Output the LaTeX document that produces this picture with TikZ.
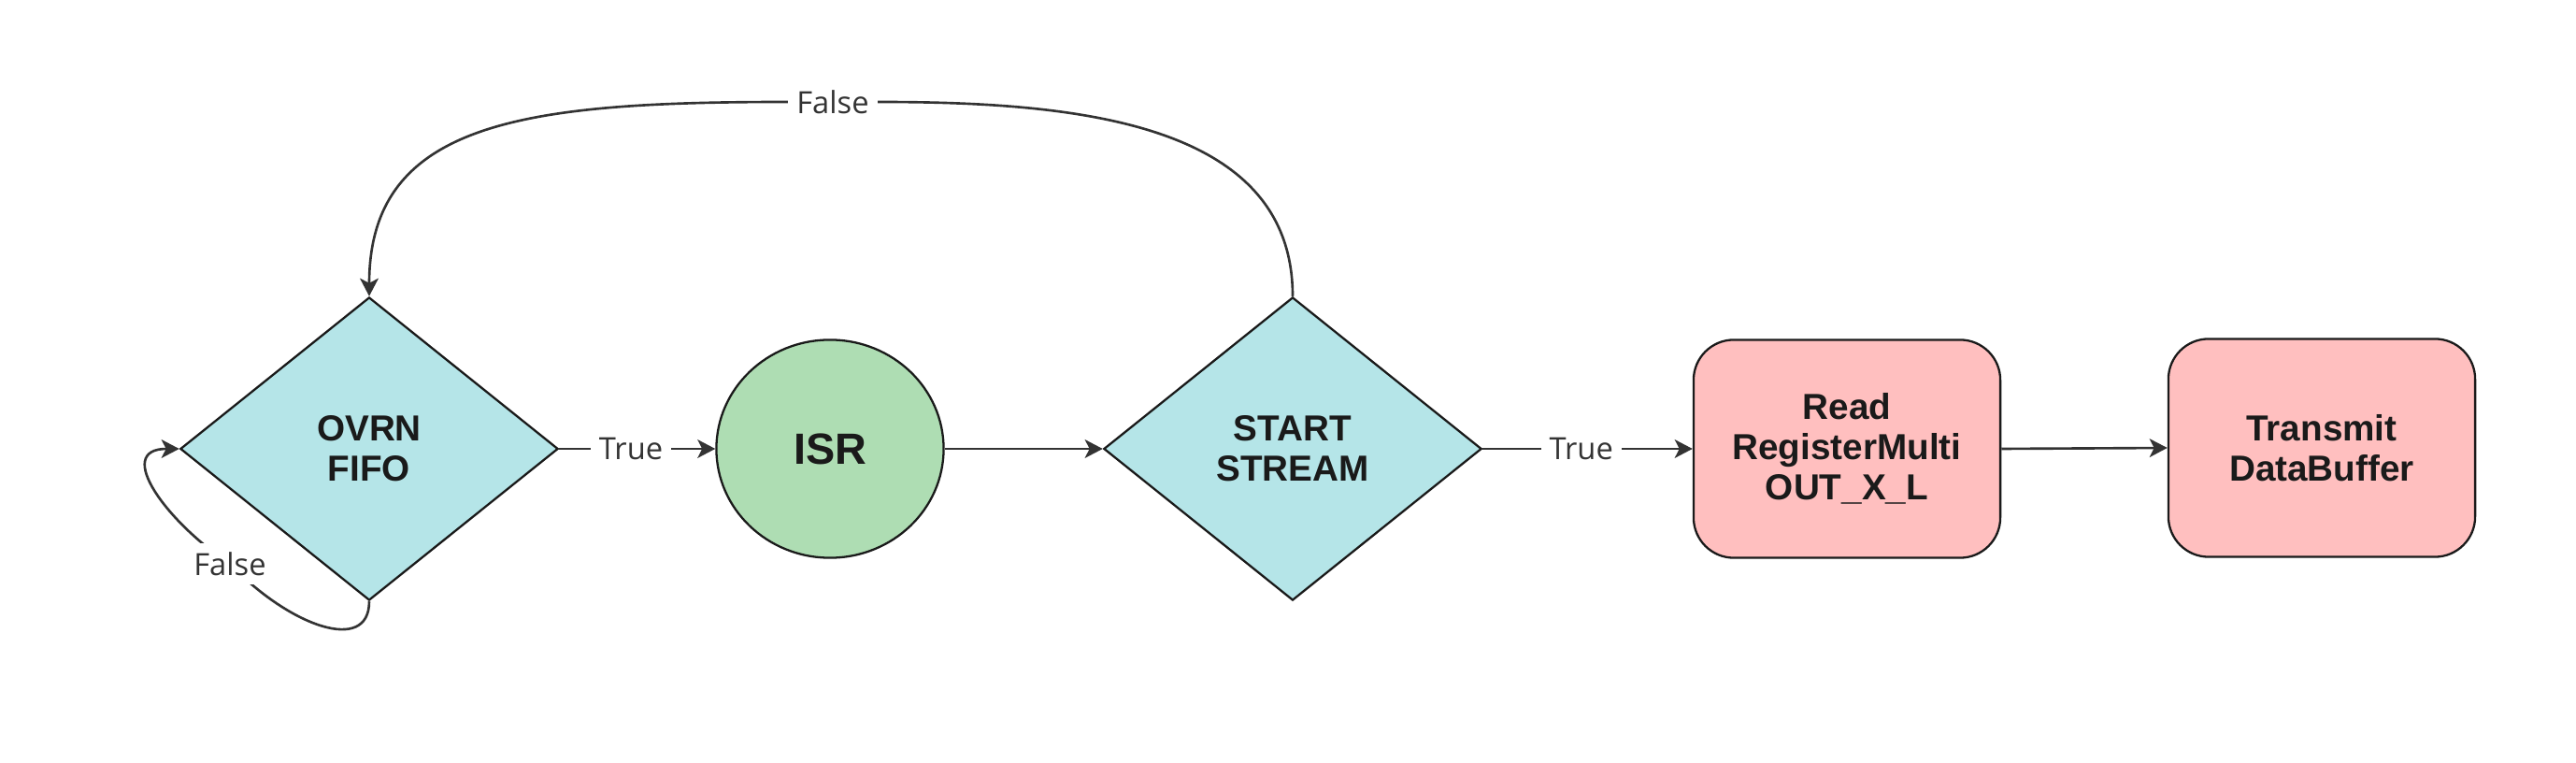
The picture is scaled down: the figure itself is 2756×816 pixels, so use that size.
\documentclass[tikz,border=0pt]{standalone}
\usepackage{fontspec}
\setmainfont{Liberation Sans}
\newfontfamily\lblfont{Open Sans}
\usetikzlibrary{shapes.geometric,arrows.meta}
\definecolor{dia}{HTML}{B5E5E8}
\definecolor{grn}{HTML}{AEDDB3}
\definecolor{pnk}{HTML}{FFBFBF}
\definecolor{edgec}{HTML}{333333}
\definecolor{bord}{HTML}{1A1A1A}
\begin{document}
\begin{tikzpicture}[x=0.01cm,y=-0.01cm,
  base/.style={draw=bord, line width=0.65pt, text=bord, font=\fontsize{11}{12.3}\selectfont\bfseries, align=center, inner sep=0pt},
  decision/.style={base, diamond, fill=dia, minimum width=4.04cm, minimum height=3.24cm},
  roundnode/.style={base, ellipse, fill=grn, minimum width=2.43cm, minimum height=2.33cm, font=\fontsize{13.3}{15}\selectfont\bfseries},
  procbox/.style={base, rectangle, rounded corners=0.43cm, fill=pnk, minimum width=3.28cm, minimum height=2.33cm},
  conn/.style={draw=edgec, line width=0.75pt, -{Stealth[length=5.4pt,width=5.6pt,inset=1.4pt]}},
  elabel/.style={fill=white, text=edgec, font=\lblfont\fontsize{9.3}{11}\selectfont, inner sep=2.6pt}
]
\useasboundingbox (0,0) rectangle (2756,816);
\fill[white] (0,0) rectangle (2756,816);

\node[decision] (ovrn) at (395,480) {OVRN\\FIFO};
\node[roundnode] (isr) at (888,480) {ISR};
\node[decision] (start) at (1383,480) {START\\STREAM};
\node[procbox] (read) at (1976,480) {Read\\RegisterMulti\\OUT\_X\_L};
\node[procbox] (trans) at (2484,479) {Transmit\\DataBuffer};

\draw[conn] (ovrn.east) -- node[elabel, pos=0.46] {True} (isr.west);
\draw[conn] (isr.east) -- (start.west);
\draw[conn] (start.east) -- node[elabel, pos=0.47] {True} (read.west);
\draw[conn] (read.east) -- (trans.west);

\draw[conn] (start.north) .. controls (1383,130) and (1150,109) .. (939,109)
  -- (891,109) node[elabel] {False}
  -- (843,109) .. controls (560,109) and (395,130) .. (ovrn.north);

\draw[conn] (ovrn.south) .. controls (395,700) and (310,670) .. (246,603) node[elabel] {False}
  .. controls (180,560) and (120,480) .. (ovrn.west);
\end{tikzpicture}
\end{document}
